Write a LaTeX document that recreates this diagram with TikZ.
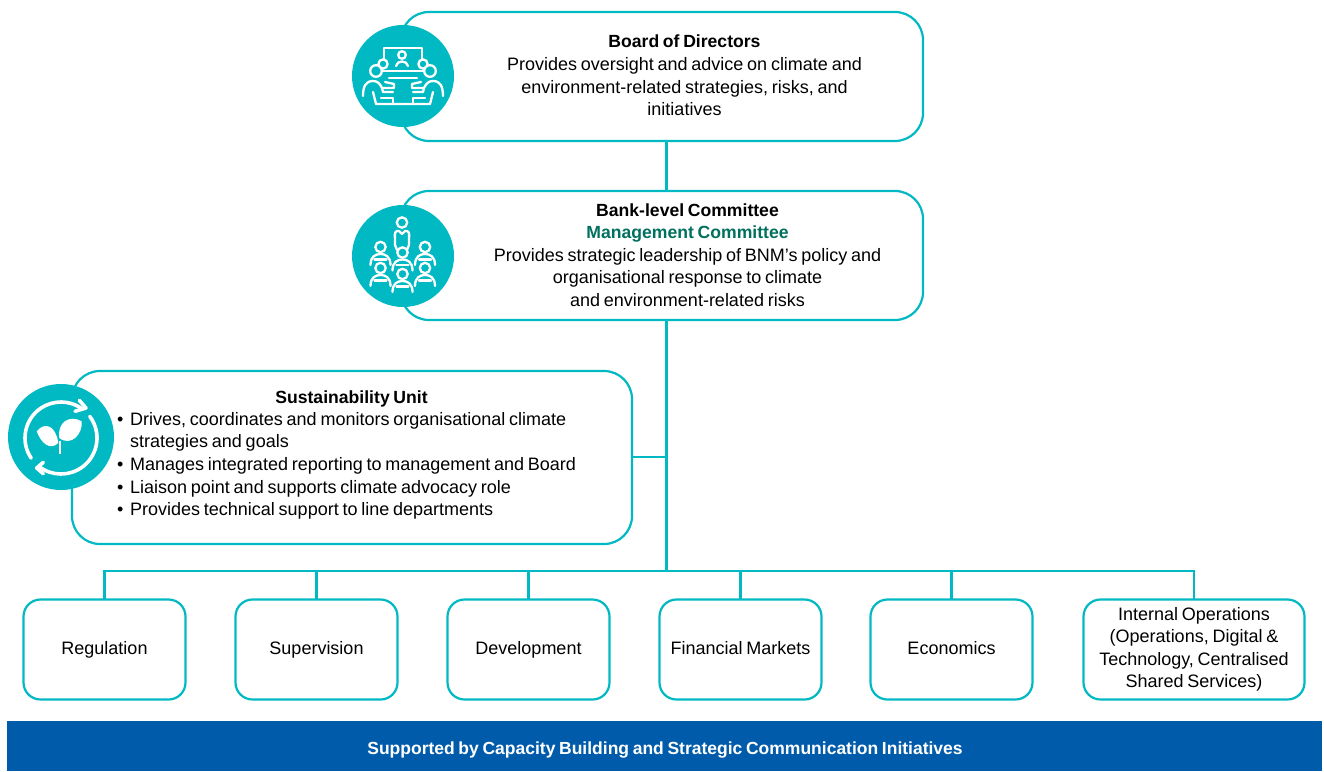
\documentclass[tikz,border=0pt]{standalone}
\usepackage{fontspec}
\setmainfont[WordSpace=0.75]{Liberation Sans}
\usepackage{tikz}
\usetikzlibrary{positioning}
\definecolor{bnmteal}{HTML}{00B9C2}
\definecolor{bnmgreen}{HTML}{00705F}
\definecolor{bnmblue}{HTML}{005BAA}

\tikzset{
  bigbox/.style={rectangle, draw=bnmteal, line width=2.2pt, rounded corners=28pt, fill=white, anchor=north west, outer sep=0pt},
  deptbox/.style={rectangle, draw=bnmteal, line width=2.2pt, rounded corners=17pt, fill=white, anchor=north west, outer sep=0pt, minimum height=100pt, inner sep=0pt, align=center, font=\fontsize{18}{22.4}\selectfont},
  oneline/.style={text height=13pt, text depth=4pt},
  boxtext/.style={inner sep=0pt, align=center, font=\fontsize{18}{22.6}\selectfont},
  link/.style={draw=bnmteal, line width=2.2pt},
  iconcircle/.style={circle, fill=bnmteal, minimum size=102pt, inner sep=0pt},
  iconline/.style={draw=white, line width=2.3pt, line cap=round, line join=round},
  arrowline/.style={draw=white, line width=3.6pt, line cap=round, line join=round},
}
\newcommand{\boxtitle}[1]{{\fontsize{17.6}{22.6}\selectfont\bfseries #1}}
% head and shoulders of one person, fill hides the row behind
\newcommand{\iconperson}[2]{%
  \filldraw[iconline, fill=bnmteal] (#1-10,#2+18) .. controls (#1-10,#2+9.5) and (#1-5,#2+7) .. (#1,#2+7) .. controls (#1+5,#2+7) and (#1+10,#2+9.5) .. (#1+10,#2+18);
  \draw[iconline] (#1-6,#2+12.5) -- (#1+6,#2+12.5);
  \filldraw[iconline, fill=bnmteal] (#1,#2) circle[radius=5.2pt];
}

\begin{document}
\begin{tikzpicture}[x=1pt, y=-1pt]
\useasboundingbox (0,0) rectangle (1324,771);

%%% boxes
\node [bigbox, minimum width=522pt, minimum height=129pt] (board) at (401,12) {};
\node [bigbox, minimum width=522pt, minimum height=129pt] (bank) at (401,191) {};
\node [bigbox, minimum width=560pt, minimum height=173pt] (unit) at (72,371) {};

%%% departments
\node [deptbox, oneline, minimum width=162pt] (regulation) at (23.5,599.5) {Regulation};
\node [deptbox, oneline, minimum width=162pt] (supervision) at (235.5,599.5) {Supervision};
\node [deptbox, oneline, minimum width=162pt] (development) at (447.5,599.5) {Development};
\node [deptbox, oneline, minimum width=162pt] (markets) at (659.5,599.5) {Financial Markets};
\node [deptbox, oneline, minimum width=162pt] (economics) at (870.5,599.5) {Economics};
\node [deptbox, minimum width=221pt] (internal) at (1083.5,599.5) {Internal Operations\\
(Operations, Digital \&\\
Technology, Centralised\\
Shared Services)};

%%% texts
\node [boxtext] (board-text) at (684.5,75.5) {\boxtitle{Board of Directors}\\
Provides oversight and advice on climate and\\
environment-related strategies, risks, and\\
initiatives};
\node [boxtext] (bank-text) at (687.5,255) {\boxtitle{Bank-level Committee}\\
\textcolor{bnmgreen}{\boxtitle{Management Committee}}\\
Provides strategic leadership of BNM’s policy and\\
organisational response to climate\\
and environment-related risks};
\node [boxtext] (unit-title) at (351.5,398.5) {\boxtitle{Sustainability Unit}};
\node [boxtext, align=left, anchor=north west] (unit-text) at (117,412) {•\hspace{6.7pt}Drives, coordinates and monitors organisational climate\\
\hspace{13pt}strategies and goals\\
•\hspace{6.7pt}Manages integrated reporting to management and Board\\
•\hspace{6.7pt}Liaison point and supports climate advocacy role\\
•\hspace{6.7pt}Provides technical support to line departments};

%%% banner
\node [rectangle, fill=bnmblue, minimum width=1315pt, minimum height=50pt, inner sep=0pt, anchor=north west, outer sep=0pt] (banner) at (7,721) {};
\node [text=white, inner sep=0pt, font=\fontsize{17.5}{20}\selectfont\bfseries] (banner-text) at (665,750.5) {Supported by Capacity Building and Strategic Communication Initiatives};

%%% connections
\coordinate (trunk) at (666.5,571);
\draw [link] (board.south -| trunk) -- (bank.north -| trunk);
\draw [link] (bank.south -| trunk) -- (trunk);
\draw [link] (unit.east |- 0,457) -- (666.5,457);
\draw [link] (regulation.north) -- (regulation.north |- trunk) -- (internal.north |- trunk) -- (internal.north);
\foreach \dept in {supervision,development,markets,economics}
  \draw [link] (\dept.north) -- (\dept.north |- trunk);

%%% icons
\node [iconcircle] (board-icon) at (403,76) {};
\node [iconcircle] (bank-icon) at (403,256) {};
\node [iconcircle, minimum size=106pt] (unit-icon) at (61,437) {};

% board icon
\draw [iconline] (384,62) -- (384,48) -- (422,48) -- (422,62);
\draw [iconline] (402,55) circle[radius=3.8pt];
\draw [iconline] (396,66) .. controls (397,60) and (407,60) .. (408,66);
\foreach \sx/\ax in {1/403,-1/403}{
  \begin{scope}[shift={(\ax,0)}, xscale=\sx]
    \filldraw [iconline, fill=bnmteal] (-20,64) circle[radius=4.6pt];
    \draw [iconline] (-21,71) -- (0,71);
    \draw [iconline] (-14,78) -- (0,78);
    \filldraw [iconline, fill=bnmteal] (-27,71) circle[radius=5.8pt];
    \draw [iconline] (-40,96) .. controls (-40,86) and (-37,81) .. (-30,81) .. controls (-25,81) and (-23,84) .. (-21,88) -- (-9,88) -- (-9,84) -- (-18,82);
    \draw [iconline] (-21,88) -- (-20,92) -- (-10,92);
    \draw [iconline] (-30,92) -- (-27,104) -- (0,104);
    \draw [iconline] (-22,98) -- (-10,98) -- (-10,104);
  \end{scope}
}

% bank icon
\draw [iconline] (402,222.5) circle[radius=5.2pt];
\draw [iconline] (399,231) -- (397,231) .. controls (394,232) and (395,236) .. (395,240) -- (395,245) .. controls (395,248) and (397,247) .. (397,250);
\draw [iconline] (405,231) -- (407,231) .. controls (410,232) and (409,236) .. (409,240) -- (409,245) .. controls (409,248) and (407,247) .. (407,250);
\draw [iconline] (399,231) -- (402,234) -- (405,231);
\iconperson{380.5}{247}
\iconperson{425}{247}
\iconperson{402.5}{252.5}
\iconperson{380.5}{268}
\iconperson{425}{268}
\iconperson{402.5}{274}

% unit icon
\begin{scope}[shift={(61,438)}, y=1pt]
  \draw [arrowline] (214:36pt) arc (214:55:36pt);
  \draw [arrowline] (37:36pt) arc (37:-127:36pt);
  \draw [arrowline] (18.3,37.7) -- (25,30) -- (14,26.7);
  \draw [arrowline] (-17.7,-24.3) -- (-24.3,-30) -- (-17.7,-35.7);
  % leaves
  \draw [draw=white, line width=2.7pt] (-1,-16) -- (-1,-3);
  \fill [white] (-2.7,-5) .. controls (-5,12) and (-16,17) .. (-24.3,6.7) .. controls (-20,-5) and (-11,-13) .. (-2.7,-5) -- cycle;
  \fill [white] (-1.7,0) .. controls (-4,15) and (8,24) .. (20.7,16.7) .. controls (22,4) and (10,-9) .. (-1.7,0) -- cycle;
\end{scope}

\end{tikzpicture}
\end{document}
